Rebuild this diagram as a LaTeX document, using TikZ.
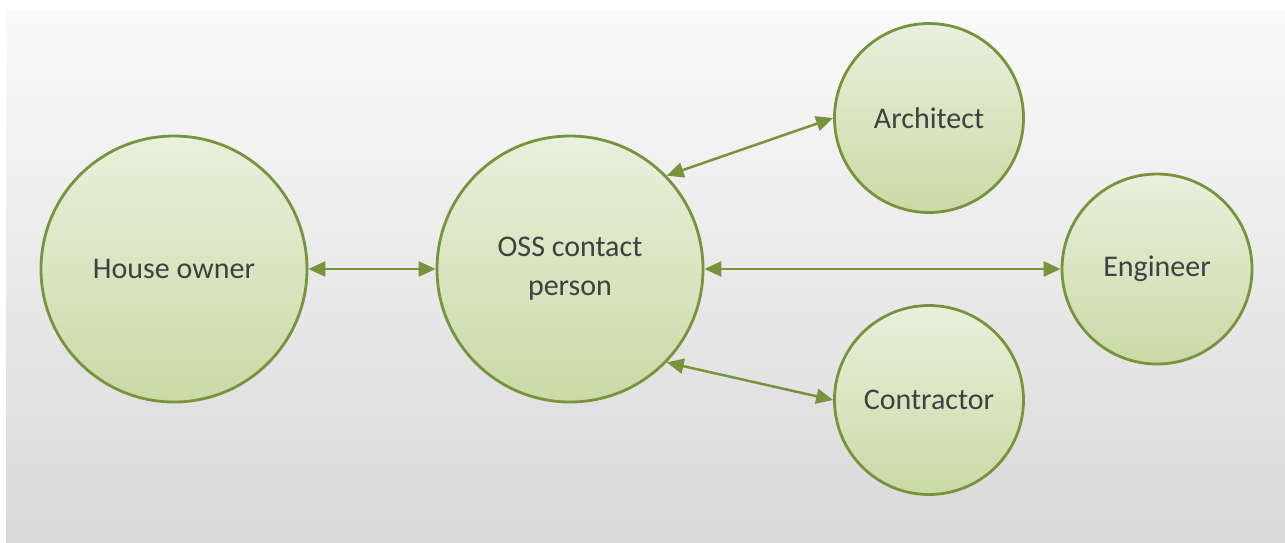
\documentclass[tikz,border=0pt]{standalone}
\usepackage{fontspec}
\setmainfont{Carlito}
\usetikzlibrary{arrows.meta}
\definecolor{olive}{HTML}{77933C}
\definecolor{paletop}{HTML}{E9F0DC}
\definecolor{palebot}{HTML}{C9DAA6}
\definecolor{txt}{HTML}{404040}
\begin{document}
\begin{tikzpicture}[x=1pt,y=-1pt,
    party/.style={circle,draw=olive,line width=2.8pt,top color=paletop,bottom color=palebot,
      text=txt,align=center,font=\fontsize{30}{39}\selectfont,inner sep=0pt},
    link/.style={olive,line width=2.5pt,{Triangle[length=17pt,width=15pt]}-{Triangle[length=17pt,width=15pt]}}]
      \useasboundingbox (0,0) rectangle (1285,542);
      \fill[white] (0,0) rectangle (1285,542);
      \shade[top color=black!2,bottom color=black!15] (6,10) rectangle (1285,542);
      \node[party,minimum size=266pt] (owner) at (174,269) {House owner};
      \node[party,minimum size=266pt] (oss) at (570,269) {OSS contact\\person};
      \node[party,minimum size=189pt] (architect) at (929,118) {Architect};
      \node[party,minimum size=190pt] (engineer) at (1157,269) {Engineer};
      \node[party,minimum size=189pt] (contractor) at (929,400) {Contractor};
      \draw[link] (owner) -- (oss);
      \draw[link] (oss.44) -- (architect.west);
      \draw[link] (oss) -- (engineer);
      \draw[link] (oss.-44) -- (contractor.west);
    \end{tikzpicture}
\end{document}
